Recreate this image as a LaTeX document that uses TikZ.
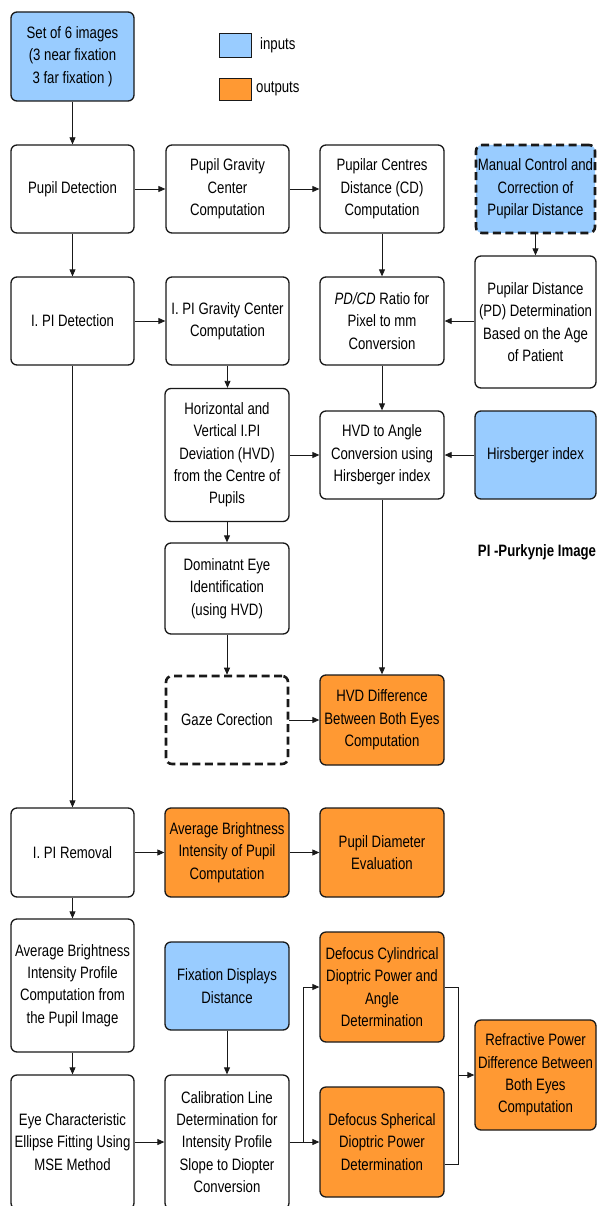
\documentclass[tikz,border=0pt]{standalone}
\usepackage{fontspec}
\setmainfont{Liberation Sans}[FakeStretch=0.8]
\usetikzlibrary{arrows.meta,calc}
\definecolor{inblue}{HTML}{99CCFF}
\definecolor{outorange}{HTML}{FF9933}
\begin{document}
\begin{tikzpicture}[x=1pt,y=-1pt,
  box/.style={draw=black!90, line width=1.3pt, rounded corners=6pt, align=center,
    inner sep=0pt, fill=white, font=\fontsize{16.5}{22.3}\selectfont},
  inbox/.style={box, fill=inblue},
  outbox/.style={box, fill=outorange},
  dashbrd/.style={line width=2.6pt, dash pattern=on 8pt off 4.5pt},
  arr/.style={-{Triangle[length=7pt,width=6pt]}, line width=0.8pt, draw=black!90},
  ln/.style={line width=0.8pt, draw=black!90},
  lbl/.style={font=\fontsize{16.5}{22.3}\selectfont, inner sep=0pt}]
\useasboundingbox (0,0) rectangle (597,1206);

% legend
\node[draw=black!90, line width=1pt, fill=inblue, minimum width=32pt, minimum height=24pt, inner sep=0pt] (leg1) at (235,46) {};
\node[lbl, anchor=west] (leg1t) at (260,45) {inputs};
\node[draw=black!90, line width=1pt, fill=outorange, minimum width=32pt, minimum height=22pt, inner sep=0pt] (leg2) at (235,90) {};
\node[lbl, anchor=west] (leg2t) at (256,89) {outputs};

\node[inbox, minimum width=123pt, minimum height=89pt] (set) at (72.5,56.5) {Set of 6 images\\(3 near fixation\\3 far fixation )};
\node[box, minimum width=123pt, minimum height=88pt] (pupdet) at (72.5,189) {Pupil Detection};
\node[box, minimum width=123pt, minimum height=88pt] (pgc) at (227.5,189) {Pupil Gravity\\Center\\Computation};
\node[box, minimum width=124pt, minimum height=88pt] (pcd) at (382,189) {Pupilar Centres\\Distance (CD)\\Computation};
\node[inbox, dashbrd, minimum width=119pt, minimum height=88pt] (manual) at (535.5,189) {Manual Control and\\Correction of\\Pupilar Distance};
\node[box, minimum width=121pt, minimum height=132pt] (pdd) at (535.5,322) {Pupilar Distance\\(PD) Determination\\Based on the Age\\of Patient};
\node[box, minimum width=124pt, minimum height=88pt] (pdcd) at (382,321) {\textit{PD/CD} Ratio for\\Pixel to mm\\Conversion};
\node[box, minimum width=123pt, minimum height=88pt] (ipid) at (72.5,321) {I. PI Detection};
\node[box, minimum width=123pt, minimum height=88pt] (ipig) at (227.5,321) {I. PI Gravity Center\\Computation};
\node[box, minimum width=124pt, minimum height=133pt] (hvdev) at (227,455) {Horizontal and\\Vertical I.PI\\Deviation (HVD)\\from the Centre of\\Pupils};
\node[box, minimum width=124pt, minimum height=88pt] (hvdang) at (382,455) {HVD to Angle\\Conversion using\\Hirsberger index};
\node[inbox, minimum width=121pt, minimum height=88pt] (hirs) at (535.5,455) {Hirsberger index};
\node[box, minimum width=124pt, minimum height=91pt] (domeye) at (227,588.5) {Dominatnt Eye\\Identification\\(using HVD)};
\node[box, dashbrd, minimum width=122pt, minimum height=88pt] (gaze) at (227,720) {Gaze Corection};
\node[outbox, minimum width=124pt, minimum height=90pt] (hvddiff) at (382,720) {HVD Difference\\Between Both Eyes\\Computation};
\node[font=\bfseries\fontsize{16.5}{20}\selectfont, inner sep=0pt] (pinote) at (537,552) {PI -Purkynje Image};

\node[box, minimum width=123pt, minimum height=89pt] (piremoval) at (72.5,852.5) {I. PI Removal};
\node[outbox, minimum width=124pt, minimum height=89pt] (abip) at (227,852.5) {Average Brightness\\Intensity of Pupil\\Computation};
\node[outbox, minimum width=124pt, minimum height=89pt] (pde) at (382,852.5) {Pupil Diameter\\Evaluation};
\node[box, minimum width=123pt, minimum height=133pt] (abipr) at (72.5,985.5) {Average Brightness\\Intensity Profile\\Computation from\\the Pupil Image};
\node[inbox, minimum width=124pt, minimum height=88pt] (fdd) at (227,986) {Fixation Displays\\Distance};
\node[outbox, minimum width=124pt, minimum height=110pt] (dcyl) at (382,987) {Defocus Cylindrical\\Dioptric Power and\\Angle\\Determination};
\node[outbox, minimum width=121pt, minimum height=110pt] (refr) at (535.5,1075) {Refractive Power\\Difference Between\\Both Eyes\\Computation};
\node[box, minimum width=123pt, minimum height=134pt] (eyech) at (72.5,1142) {Eye Characteristic\\Ellipse Fitting Using\\MSE Method};
\node[box, minimum width=124pt, minimum height=134pt] (calib) at (227,1142) {Calibration Line\\Determination for\\Intensity Profile\\Slope to Diopter\\Conversion};
\node[outbox, minimum width=124pt, minimum height=110pt] (dsph) at (382,1142) {Defocus Spherical\\Dioptric Power\\Determination};

% connectors
\draw[arr] (set) -- (pupdet);
\draw[arr] (pupdet) -- (pgc);
\draw[arr] (pgc) -- (pcd);
\draw[arr] (manual) -- (manual |- pdd.north);
\draw[arr] (pcd) -- (pdcd);
\draw[arr] (pdd.west |- pdcd.east) -- (pdcd.east);
\draw[arr] (pupdet) -- (ipid);
\draw[arr] (ipid) -- (ipig);
\draw[arr] (ipig) -- (ipig |- hvdev.north);
\draw[arr] (pdcd) -- (hvdang);
\draw[arr] (hvdev) -- (hvdang);
\draw[arr] (hirs) -- (hvdang);
\draw[arr] (hvdev) -- (domeye);
\draw[arr] (domeye) -- (gaze);
\draw[arr] (hvdang) -- (hvddiff);
\draw[arr] (gaze) -- (hvddiff);
\draw[arr] (ipid) -- (piremoval);
\draw[arr] (piremoval) -- (abip);
\draw[arr] (abip) -- (pde);
\draw[arr] (piremoval) -- (abipr);
\draw[arr] (abipr) -- (eyech);
\draw[arr] (eyech) -- (calib);
\draw[arr] (fdd) -- (calib);
\draw[arr] (calib) -- (dsph);
\coordinate (br) at (303,1142);
\draw[arr] (br) |- (dcyl.west);
\coordinate (jn) at (458,1075);
\draw[ln] (dcyl.east) -| (jn);
\draw[ln] ($(dsph.east)+(0,22)$) -| (jn);
\draw[arr] (jn) -- (refr.west);
\end{tikzpicture}
\end{document}
